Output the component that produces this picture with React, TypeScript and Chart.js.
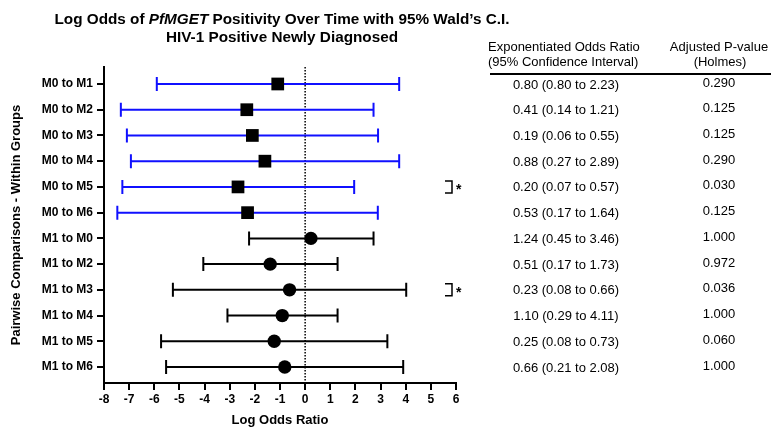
import React, { useEffect, useRef } from 'react';
import { Chart, registerables } from 'chart.js';

Chart.register(...registerables);

const comparisons = [
  'M0 to M1', 'M0 to M2', 'M0 to M3', 'M0 to M4', 'M0 to M5', 'M0 to M6',
  'M1 to M0', 'M1 to M2', 'M1 to M3', 'M1 to M4', 'M1 to M5', 'M1 to M6',
];
const baselineGroup = ['M0', 'M0', 'M0', 'M0', 'M0', 'M0', 'M1', 'M1', 'M1', 'M1', 'M1', 'M1'];
const logOdds = [-1.09, -2.32, -2.10, -1.60, -2.67, -2.29, 0.23, -1.39, -0.62, -0.91, -1.23, -0.81];
const lowerCI = [-5.90, -7.33, -7.09, -6.93, -7.27, -7.47, -2.23, -4.05, -5.26, -3.09, -5.73, -5.53];
const upperCI = [3.74, 2.72, 2.90, 3.74, 1.95, 2.89, 2.72, 1.29, 4.02, 1.29, 3.27, 3.90];
const oddsRatioText = [
  '0.80 (0.80 to 2.23)', '0.41 (0.14 to 1.21)', '0.19 (0.06 to 0.55)', '0.88 (0.27 to 2.89)',
  '0.20 (0.07 to 0.57)', '0.53 (0.17 to 1.64)', '1.24 (0.45 to 3.46)', '0.51 (0.17 to 1.73)',
  '0.23 (0.08 to 0.66)', '1.10 (0.29 to 4.11)', '0.25 (0.08 to 0.73)', '0.66 (0.21 to 2.08)',
];
const pValues = ['0.290', '0.125', '0.125', '0.290', '0.030', '0.125', '1.000', '0.972', '0.036', '1.000', '0.060', '1.000'];
const significant = [false, false, false, false, true, false, false, false, true, false, false, false];
const xMin = -8;
const xMax = 6;

const FONT = '"Liberation Sans", Arial, Helvetica, sans-serif';
const BLUE = '#1010ff';

export default function App() {
  const ref = useRef<HTMLCanvasElement | null>(null);

  useEffect(() => {
    if (!ref.current) return;
    Chart.defaults.font.family = FONT;

    const m0Points = comparisons
      .map((_, i) => ({ x: logOdds[i], y: i, g: baselineGroup[i] }))
      .filter((p) => p.g === 'M0')
      .map((p) => ({ x: p.x, y: p.y }));
    const m1Points = comparisons
      .map((_, i) => ({ x: logOdds[i], y: i, g: baselineGroup[i] }))
      .filter((p) => p.g === 'M1')
      .map((p) => ({ x: p.x, y: p.y }));

    const errorBars = {
      id: 'errorBars',
      beforeDatasetsDraw(chart: any) {
        const { ctx, chartArea, scales } = chart;
        const xs = scales.x;
        const ys = scales.y;
        ctx.save();
        // dotted zero line
        const x0 = xs.getPixelForValue(0);
        ctx.strokeStyle = '#000';
        ctx.lineWidth = 1.5;
        ctx.setLineDash([1.5, 1.5]);
        ctx.beginPath();
        ctx.moveTo(x0, chartArea.top);
        ctx.lineTo(x0, chartArea.bottom);
        ctx.stroke();
        ctx.setLineDash([]);
        // error bars
        comparisons.forEach((_, i) => {
          const y = ys.getPixelForValue(i);
          const xl = xs.getPixelForValue(lowerCI[i]);
          const xh = xs.getPixelForValue(upperCI[i]);
          ctx.strokeStyle = baselineGroup[i] === 'M0' ? BLUE : '#000';
          ctx.lineWidth = 2;
          ctx.beginPath();
          ctx.moveTo(xl, y);
          ctx.lineTo(xh, y);
          ctx.moveTo(xl, y - 7);
          ctx.lineTo(xl, y + 7);
          ctx.moveTo(xh, y - 7);
          ctx.lineTo(xh, y + 7);
          ctx.stroke();
        });
        ctx.restore();
      },
      afterDraw(chart: any) {
        const { ctx, chartArea, scales } = chart;
        const ys = scales.y;
        ctx.save();
        ctx.fillStyle = '#000';
        ctx.textBaseline = 'middle';
        // title
        const tSize = 15.3;
        const seg1 = 'Log Odds of ';
        const seg2 = 'PfMGET';
        const seg3 = ' Positivity Over Time with 95% Wald\u2019s C.I.';
        ctx.font = `bold ${tSize}px ${FONT}`;
        const w1 = ctx.measureText(seg1).width;
        const w3 = ctx.measureText(seg3).width;
        ctx.font = `italic bold ${tSize}px ${FONT}`;
        const w2 = ctx.measureText(seg2).width;
        const cx = 282;
        let sx = cx - (w1 + w2 + w3) / 2;
        ctx.textAlign = 'left';
        ctx.font = `bold ${tSize}px ${FONT}`;
        ctx.fillText(seg1, sx, 20);
        ctx.font = `italic bold ${tSize}px ${FONT}`;
        ctx.fillText(seg2, sx + w1, 20);
        ctx.font = `bold ${tSize}px ${FONT}`;
        ctx.fillText(seg3, sx + w1 + w2, 20);
        ctx.textAlign = 'center';
        ctx.fillText('HIV-1 Positive Newly Diagnosed', cx, 38);

        // table header
        ctx.font = `13px ${FONT}`;
        ctx.textAlign = 'left';
        ctx.fillText('Exponentiated Odds Ratio', 488, 47);
        ctx.fillText('(95% Confidence Interval)', 488, 62);
        ctx.textAlign = 'center';
        ctx.fillText('Adjusted P-value', 719, 47);
        ctx.fillText('(Holmes)', 720, 62);
        ctx.strokeStyle = '#000';
        ctx.lineWidth = 2;
        ctx.beginPath();
        ctx.moveTo(490, 74);
        ctx.lineTo(771, 74);
        ctx.stroke();

        // table rows
        comparisons.forEach((_, i) => {
          const y = ys.getPixelForValue(i);
          ctx.font = `13px ${FONT}`;
          ctx.textAlign = 'center';
          ctx.fillText(oddsRatioText[i], 566, y + 1);
          ctx.fillText(pValues[i], 719, y - 1);
          if (significant[i]) {
            const bx = chartArea.right - 4;
            ctx.lineWidth = 1.5;
            ctx.beginPath();
            ctx.moveTo(bx - 7, y - 6);
            ctx.lineTo(bx, y - 6);
            ctx.lineTo(bx, y + 6);
            ctx.lineTo(bx - 7, y + 6);
            ctx.stroke();
            ctx.font = `bold 14px ${FONT}`;
            ctx.textAlign = 'left';
            ctx.fillText('*', bx + 4, y + 3);
          }
        });
        ctx.restore();
      },
    };

    const chart = new Chart(ref.current, {
      type: 'scatter',
      data: {
        datasets: [
          {
            label: 'M0 baseline',
            data: m0Points,
            pointStyle: 'rect',
            pointRadius: 9,
            pointHoverRadius: 9,
            backgroundColor: '#000',
            borderColor: '#000',
            borderWidth: 0,
          },
          {
            label: 'M1 baseline',
            data: m1Points,
            pointStyle: 'circle',
            pointRadius: 6.7,
            pointHoverRadius: 6.7,
            backgroundColor: '#000',
            borderColor: '#000',
            borderWidth: 0,
          },
        ],
      },
      options: {
        responsive: false,
        animation: false,
        events: [],
        layout: { padding: { left: 0, top: 67, right: 315, bottom: 0 } },
        plugins: {
          legend: { display: false },
          tooltip: { enabled: false },
          title: { display: false },
        },
        scales: {
          x: {
            type: 'linear',
            min: xMin,
            max: xMax,
            afterFit: (s: any) => { s.height = 45; },
            ticks: {
              stepSize: 1,
              color: '#000',
              font: { size: 12, weight: 'bold' },
              padding: 2,
              maxRotation: 0,
              autoSkip: false,
            },
            grid: { drawOnChartArea: false, tickLength: 7, color: '#000', lineWidth: 2 },
            border: { color: '#000', width: 2 },
            title: {
              display: true,
              text: 'Log Odds Ratio',
              color: '#000',
              font: { size: 13, weight: 'bold' },
              padding: { top: 0, bottom: 0 },
            },
          },
          y: {
            type: 'linear',
            reverse: true,
            min: -0.66,
            max: 11.62,
            afterFit: (s: any) => { s.width = 104; },
            afterBuildTicks: (s: any) => {
              s.ticks = comparisons.map((_, i) => ({ value: i }));
            },
            ticks: {
              color: '#000',
              font: { size: 12, weight: 'bold' },
              padding: 4,
              autoSkip: false,
              callback: (v: any) => comparisons[v as number] ?? '',
            },
            grid: { drawOnChartArea: false, tickLength: 7, color: '#000', lineWidth: 2 },
            border: { color: '#000', width: 2 },
            title: {
              display: true,
              text: 'Pairwise Comparisons - Within Groups',
              color: '#000',
              font: { size: 13, weight: 'bold' },
              padding: { top: 9, bottom: 0 },
            },
          },
        },
      },
      plugins: [errorBars],
    });

    return () => chart.destroy();
  }, []);

  return (
    <div style={{ position: 'absolute', left: 0, top: 0, width: 771, height: 428, background: '#fff' }}>
      <canvas ref={ref} width={771} height={428} />
    </div>
  );
}
